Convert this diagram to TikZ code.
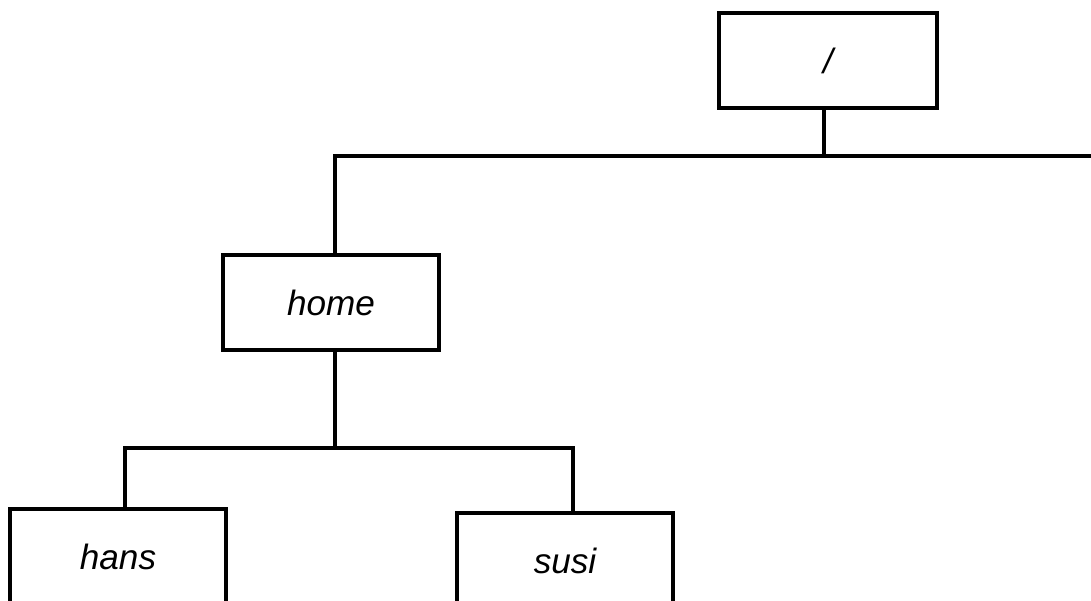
\documentclass[tikz,border=0pt]{standalone}
\usepackage{fontspec}
\setmainfont{Liberation Sans}
\usetikzlibrary{positioning}

\tikzset{
  dirbox/.style={draw, line width=1.9pt, minimum width=4.32cm, minimum height=1.9cm,
    inner sep=0pt, font=\fontsize{20}{24}\selectfont\itshape},
  link/.style={line width=1.9pt}
}

\begin{document}
\begin{tikzpicture}
  % page frame, the two lower boxes run off the bottom edge
  \path[use as bounding box, clip] (0,0) rectangle (21.82,-12.02);

  % Directories
  \node[dirbox, minimum width=4.36cm] (root) at (16.56,-1.21) {/};
  \node[dirbox] (home) at (6.62,-6.05) {home};
  \node[dirbox] (hans) at (2.36,-11.13) {hans};
  \node[dirbox] (susi) at (11.30,-11.21) {susi};

  % Branch points
  \coordinate (toprail) at (22.2,-3.12);
  \coordinate (homerail) at ([xshift=0.08cm]home.south |- 0,-8.96);
  \coordinate (hansup) at ([xshift=0.14cm]hans.north);
  \coordinate (susiup) at ([xshift=0.16cm]susi.north);

  % Links from / down to home (the rail runs on to the right edge)
  \draw[link] ([xshift=-0.08cm]root.south) -- ([xshift=-0.08cm]root.south |- toprail);
  \draw[link] ([xshift=0.08cm]home.north) |- (toprail);

  % Links from home down to hans and susi
  \draw[link] ([xshift=0.08cm]home.south) -- (homerail);
  \draw[link] (hansup) |- (homerail) -| (susiup);
\end{tikzpicture}
\end{document}
